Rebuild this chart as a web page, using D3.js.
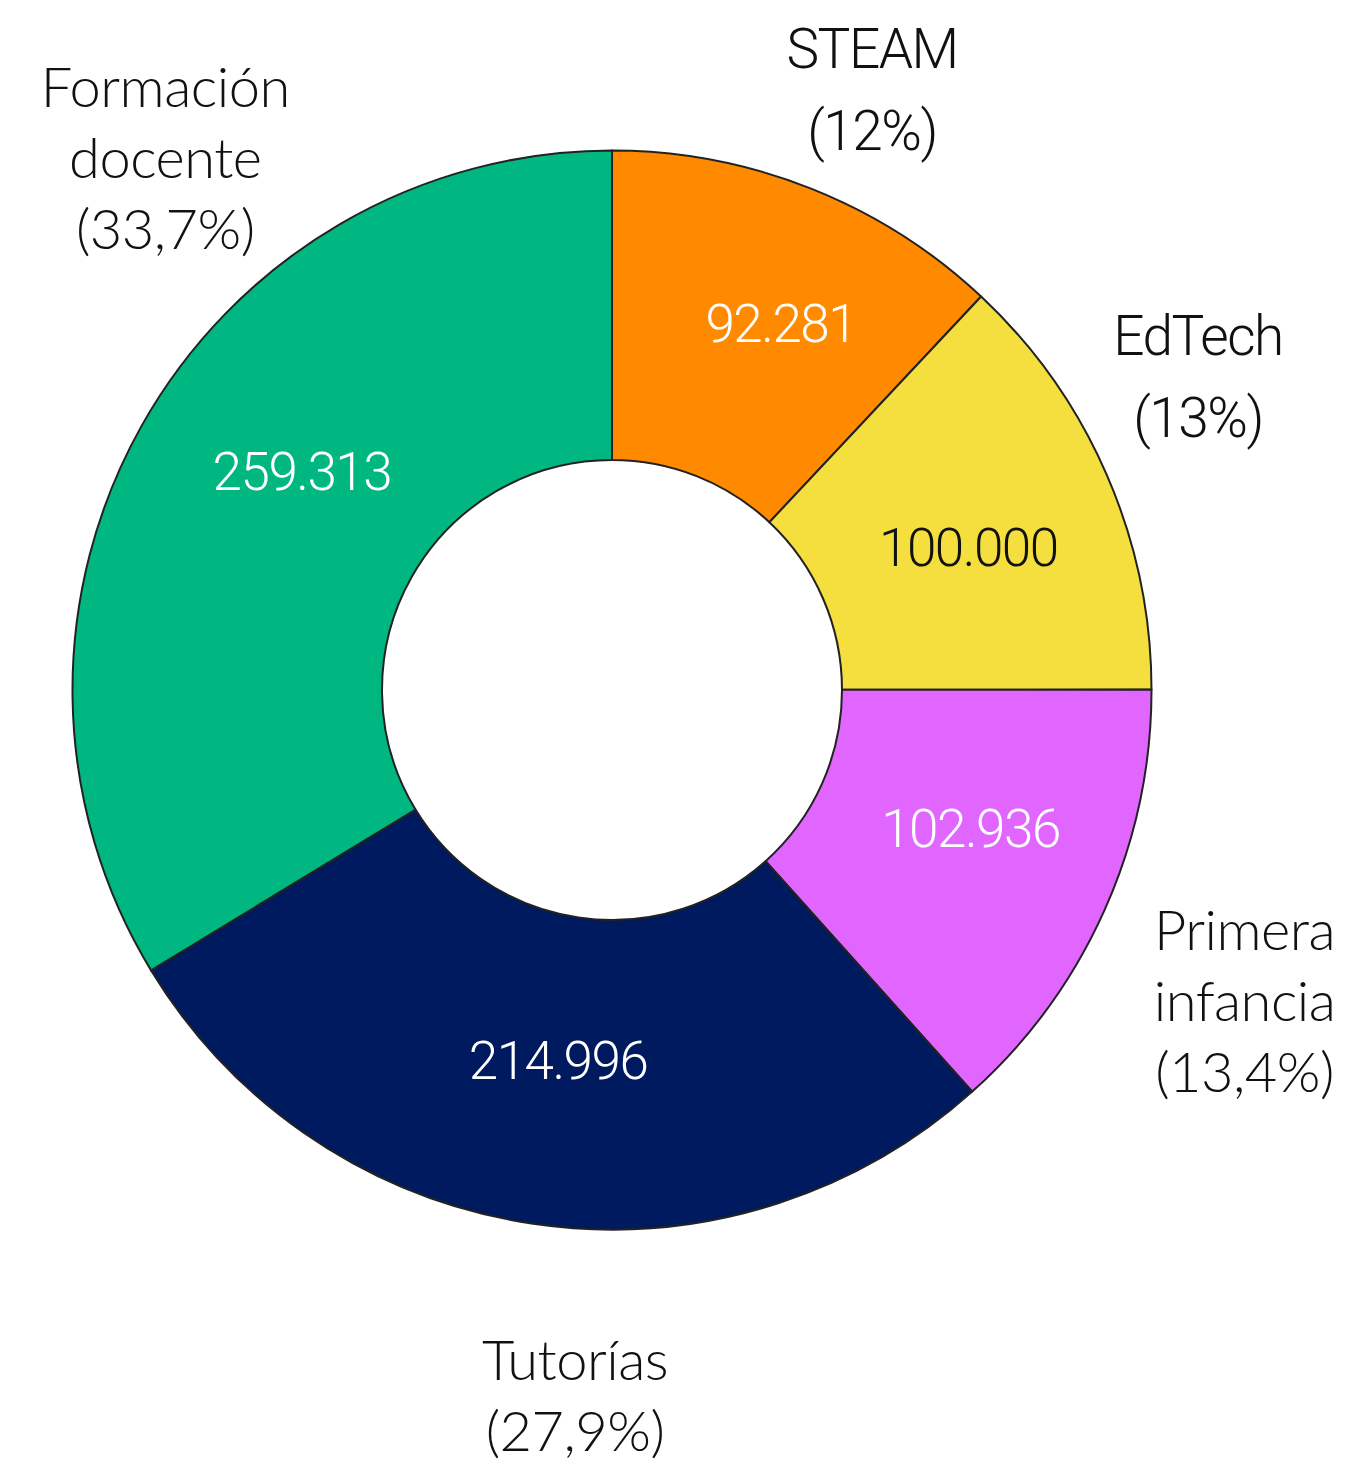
<!DOCTYPE html>
<html>
<head>
<meta charset="utf-8">
<script src="https://cdn.jsdelivr.net/npm/d3@7"></script>
<style>
  html, body { margin: 0; padding: 0; background: #ffffff; }
  svg { display: block; }
</style>
</head>
<body>
<svg id="chart" width="1358" height="1464"></svg>
<script>
// Programme areas, in clockwise order from 12 o'clock
const categories = ["STEAM", "EdTech", "Primera infancia", "Tutorías", "Formación docente"];
const values = [92281, 100000, 102936, 214996, 259313];
const valueLabels = ["92.281", "100.000", "102.936", "214.996", "259.313"];
const shareLabels = ["(12%)", "(13%)", "(13,4%)", "(27,9%)", "(33,7%)"];
const nameLines = [["STEAM"], ["EdTech"], ["Primera", "infancia"], ["Tutorías"], ["Formación", "docente"]];
const colors = ["#ff8a00", "#f5df3f", "#e066ff", "#001a5f", "#00b781"];
const valueTextColors = ["#ffffff", "#111111", "#ffffff", "#ffffff", "#ffffff"];

// Label placement as polar positions (degrees clockwise from top, radius)
const valueLabelPolar = [[24.7, 404], [68.1, 384], [111, 384], [188.3, 374], [305.3, 380]];
const outerLabelPolar = [[23.4, 655], [61.8, 665], [116.2, 705], [183, 706], [320, 695]];
// Typeface of each outer label
const outerLabelFont = ["sans", "sans", "geo", "geo", "geo"];

const cx = 612, cy = 690;
const outerR = 539.5, innerR = 230;

const svg = d3.select("#chart");
const g = svg.append("g").attr("transform", `translate(${cx},${cy})`);

const pie = d3.pie().sort(null).value(d => d.value).startAngle(0).endAngle(2 * Math.PI);
const rows = categories.map((c, i) => ({ name: c, value: values[i], i }));
const arcs = pie(rows);

const arc = d3.arc().innerRadius(innerR).outerRadius(outerR);

const polar = ([deg, r]) => {
  const a = deg * Math.PI / 180;
  return [r * Math.sin(a), -r * Math.cos(a)];
};

g.selectAll("path.slice")
  .data(arcs)
  .join("path")
  .attr("class", "slice")
  .attr("d", arc)
  .attr("fill", d => colors[d.data.i])
  .attr("stroke", "#222222")
  .attr("stroke-width", 2)
  .attr("stroke-linejoin", "round");

// Value labels inside the ring
g.selectAll("text.value")
  .data(arcs)
  .join("text")
  .attr("class", "value")
  .attr("transform", d => {
    const [x, y] = polar(valueLabelPolar[d.data.i]);
    return `translate(${x},${y})`;
  })
  .attr("text-anchor", "middle")
  .attr("dy", "0.36em")
  .attr("font-family", "Roboto, 'Liberation Sans', Arial, sans-serif")
  .attr("font-size", 53)
  .attr("font-weight", 300)
  .attr("letter-spacing", -1.5)
  .attr("fill", d => valueTextColors[d.data.i])
  .text(d => valueLabels[d.data.i]);

// Outer category labels with share
const fonts = {
  sans: { family: "Roboto, 'Liberation Sans', Arial, sans-serif", size: 55, lh: 82, cap: 20, ls: -1.5, weight: 300 },
  geo: { family: "Lato, 'Noto Sans', sans-serif", size: 56, lh: 71, cap: 20, ls: -0.5, weight: 300 }
};

arcs.forEach(d => {
  const i = d.data.i;
  const f = fonts[outerLabelFont[i]];
  const lines = nameLines[i].concat([shareLabels[i]]);
  const [x, y] = polar(outerLabelPolar[i]);
  const firstBaseline = y - (lines.length - 1) * f.lh / 2 + f.cap;
  const t = g.append("text")
    .attr("text-anchor", "middle")
    .attr("font-family", f.family)
    .attr("font-size", f.size)
    .attr("font-weight", f.weight)
    .attr("letter-spacing", f.ls)
    .attr("fill", "#111111");
  lines.forEach((line, k) => {
    t.append("tspan")
      .attr("x", x)
      .attr("y", firstBaseline + k * f.lh)
      .text(line);
  });
});
</script>
</body>
</html>
